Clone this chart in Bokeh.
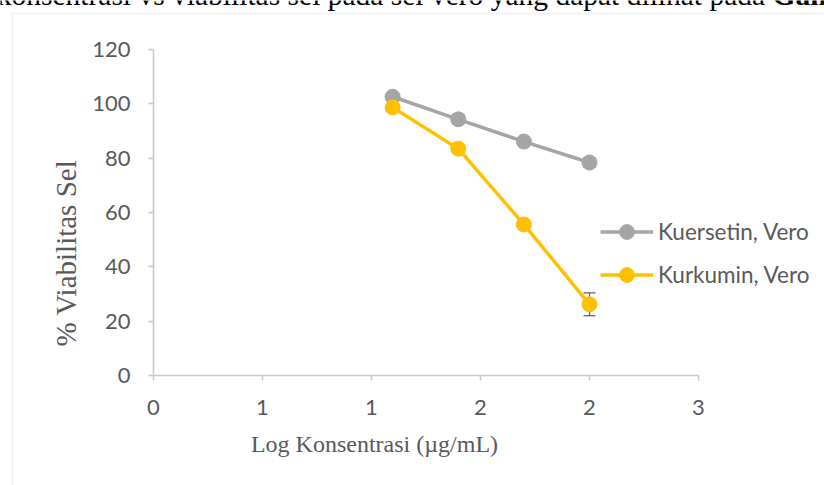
from bokeh.plotting import figure
from bokeh.models import (ColumnDataSource, Legend, LegendItem, Label, Whisker,
                          FixedTicker, BoxAnnotation, Range1d)
from bokeh.embed import file_html
from bokeh.resources import INLINE
import math

# ---- data ----
log_konsentrasi = [1.097, 1.398, 1.699, 2.000]
kuersetin = [102.6, 94.3, 86.1, 78.4]
kuersetin_err = [0.8, 1.8, 1.0, 1.8]
kurkumin = [98.7, 83.5, 55.6, 26.2]
kurkumin_err = [1.0, 1.2, 1.8, 4.2]

x_ticks = [0, 0.5, 1.0, 1.5, 2.0, 2.5]
x_tick_labels = ["0", "1", "1", "2", "2", "3"]
y_ticks = [0, 20, 40, 60, 80, 100, 120]

series_names = ["Kuersetin, Vero", "Kurkumin, Vero"]
x_title = "Log Konsentrasi (µg/mL)"
y_title = "%  Viabilitas Sel"
top_text = "konsentrasi vs viabilitas sel pada sel vero yang dapat dilihat pada "
top_text_bold = "Gam"

# ---- layout geometry (pixels) ----
W, H = 824, 485
AX_L, AX_R = 153, 698      # pixel of x = 0 and x = 2.5
AX_B, AX_T = 375, 49       # pixel of y = 0 and y = 120
X0, X1, Y0, Y1 = 0.0, 2.5, 0.0, 120.0
kx = (AX_R - AX_L) / (X1 - X0)
ky = (AX_B - AX_T) / (Y1 - Y0)
x_range = Range1d(X0 - AX_L / kx, X0 + (W - AX_L) / kx)
y_range = Range1d(Y0 - (H - AX_B) / ky, Y0 + AX_B / ky)


def px_to_x(px):
    return X0 + (px - AX_L) / kx


def py_to_y(py):
    return Y0 + (AX_B - py) / ky


GRAY = "#A5A5A5"
GOLD = "#FFC000"
AXIS = "#C8C8C8"
TXT = "#595959"

p = figure(width=W, height=H, output_backend="svg", toolbar_location=None,
           title=None, x_range=x_range, y_range=y_range,
           min_border=0)
p.outline_line_color = None
p.xgrid.visible = False
p.ygrid.visible = False
p.background_fill_color = "white"
p.border_fill_color = "white"

for ax in (p.xaxis[0], p.yaxis[0]):
    ax.fixed_location = 0
    ax.axis_line_color = AXIS
    ax.axis_line_width = 1.5
    ax.major_tick_line_color = AXIS
    ax.major_tick_line_width = 1.5
    ax.major_tick_in = 0
    ax.major_tick_out = 5
    ax.minor_tick_line_color = None
    ax.major_label_text_font = "Lato"
    ax.major_label_text_font_size = "22px"
    ax.major_label_text_color = TXT

p.xaxis.bounds = (X0, X1)
p.yaxis.bounds = (Y0, Y1)
p.xaxis.ticker = FixedTicker(ticks=x_ticks)
p.xaxis.major_label_overrides = {t: l for t, l in zip(x_ticks, x_tick_labels)}
p.xaxis.major_label_standoff = 19
p.yaxis.ticker = FixedTicker(ticks=y_ticks)
p.yaxis.major_label_standoff = 18

# chart area border (continues past the right and bottom edges)
p.add_layout(BoxAnnotation(left=px_to_x(12), right=px_to_x(W + 50),
                           top=py_to_y(13), bottom=py_to_y(H + 50),
                           level="underlay",
                           fill_alpha=0, line_color="#D9D9D9", line_width=2))

src_a = ColumnDataSource(dict(x=log_konsentrasi, y=kuersetin,
                              lo=[v - e for v, e in zip(kuersetin, kuersetin_err)],
                              hi=[v + e for v, e in zip(kuersetin, kuersetin_err)]))
src_b = ColumnDataSource(dict(x=log_konsentrasi, y=kurkumin,
                              lo=[v - e for v, e in zip(kurkumin, kurkumin_err)],
                              hi=[v + e for v, e in zip(kurkumin, kurkumin_err)]))

for src in (src_a, src_b):
    w = Whisker(source=src, base="x", lower="lo", upper="hi", level="underlay",
                line_color="#595959", line_width=1.2)
    for head in (w.upper_head, w.lower_head):
        head.size = 12
        head.line_color = "#595959"
        head.line_width = 1.2
    p.add_layout(w)

la = p.line("x", "y", source=src_a, line_color=GRAY, line_width=3.5)
ma = p.scatter("x", "y", source=src_a, size=15, fill_color=GRAY, line_color=GRAY)
lb = p.line("x", "y", source=src_b, line_color=GOLD, line_width=3.5)
mb = p.scatter("x", "y", source=src_b, size=15, fill_color=GOLD, line_color=GOLD)

legend = Legend(items=[LegendItem(label=series_names[0], renderers=[la, ma]),
                       LegendItem(label=series_names[1], renderers=[lb, mb])],
                location=(600, H - 293), orientation="vertical",
                glyph_width=53, glyph_height=37, label_height=37, spacing=6,
                label_standoff=5, padding=0, margin=0,
                border_line_color=None, background_fill_alpha=0,
                label_text_font="Lato", label_text_font_size="22.5px",
                label_text_color=TXT)
p.add_layout(legend, "center")

# axis titles
p.add_layout(Label(x=374, y=H - 443, x_units="screen", y_units="screen",
                   text=x_title, text_font="Liberation Serif", text_font_size="24px",
                   text_color=TXT, text_align="center", text_baseline="middle"))
p.add_layout(Label(x=65, y=H - 249, x_units="screen", y_units="screen",
                   text=y_title, text_font="Liberation Serif", text_font_size="29px",
                   text_color=TXT, text_align="center", text_baseline="middle",
                   angle=math.pi / 2))

# running text above the chart, cut off by the top edge as in the source
TOP_Y = H + 6
p.add_layout(Label(x=772, y=TOP_Y, x_units="screen", y_units="screen",
                   text=top_text, text_font="Liberation Serif", text_font_size="29.5px",
                   text_color="black", text_align="right", text_baseline="alphabetic"))
p.add_layout(Label(x=772, y=TOP_Y, x_units="screen", y_units="screen",
                   text=top_text_bold, text_font="Liberation Serif", text_font_size="29.5px",
                   text_font_style="bold",
                   text_color="black", text_align="left", text_baseline="alphabetic"))

open("out.html", "w").write(file_html(p, INLINE))
